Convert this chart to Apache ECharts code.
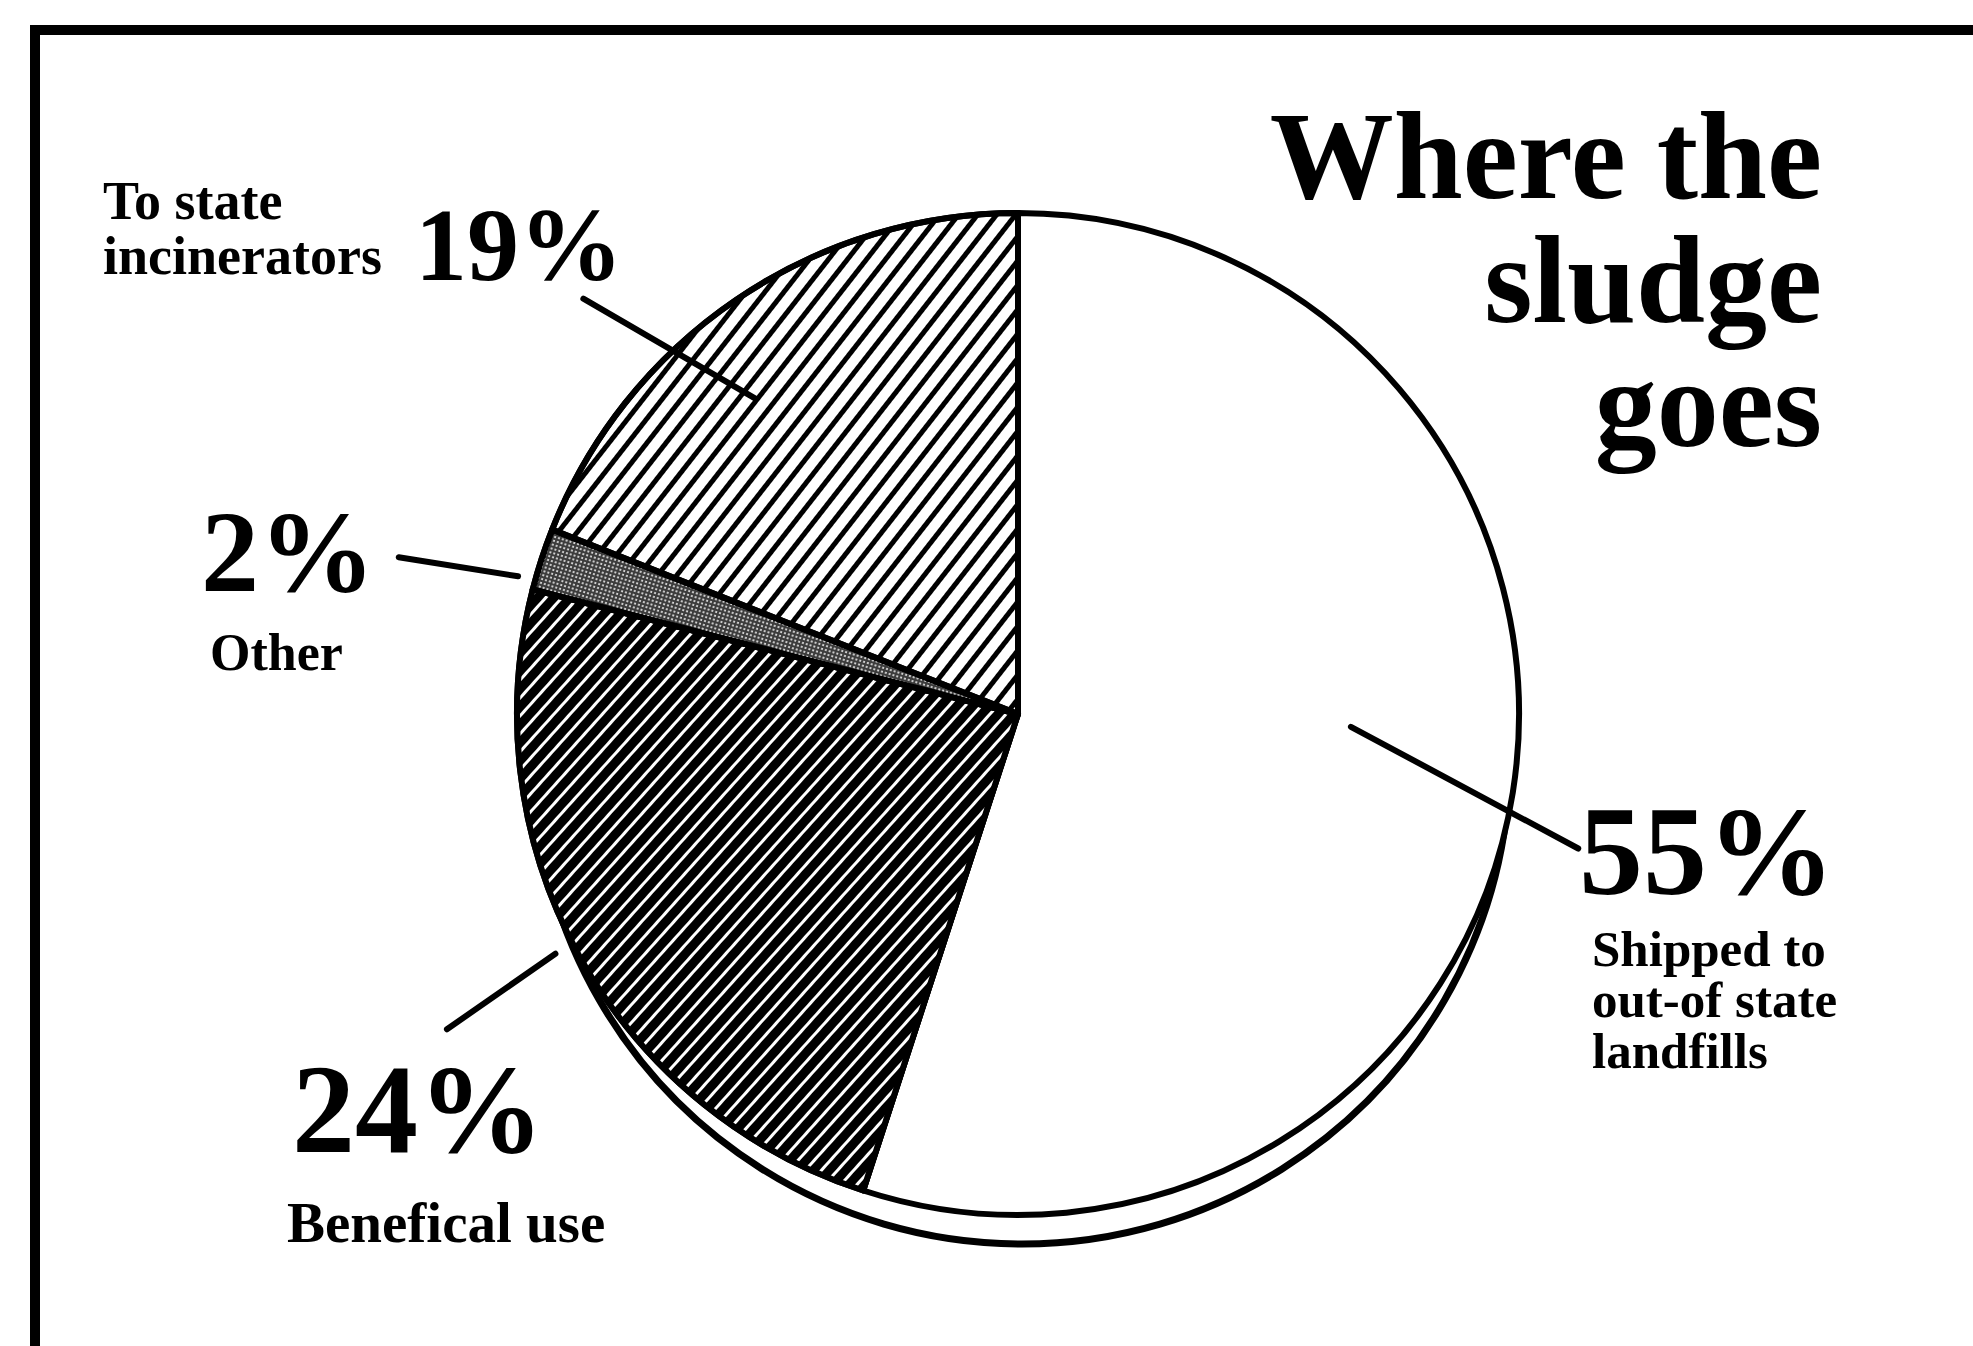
<!DOCTYPE html>
<html>
<head>
<meta charset="utf-8">
<script src="https://cdn.jsdelivr.net/npm/echarts@6/dist/echarts.min.js"></script>
<style>
  html, body { margin: 0; padding: 0; background: #fff; }
  #chart { width: 1973px; height: 1346px; }
</style>
</head>
<body>
<div id="chart"></div>
<script>
// ---------------- data ----------------
const categories = ['Shipped to out-of state landfills', 'Benefical use', 'Other', 'To state incinerators'];
const shares = [55, 24, 2, 19];
const noteLines = [
  ['Shipped to', 'out-of state', 'landfills'],
  ['Benefical use'],
  ['Other'],
  ['To state', 'incinerators']
];
const titleLines = ['Where the', 'sludge', 'goes'];

// ---------------- layout / style ----------------
const FONT = "'Liberation Serif', 'Times New Roman', serif";
const PIE = { cx: 1018, cy: 714, r: 501 };
const RING = { cx: 1022, cy: 756, r: 488 };
const DEG = Math.PI / 180;

// slice fills: white, dense dark hatch, stipple, light hatch
const FILLS = [
  { color: '#ffffff' },
  { color: '#000000', decal: { symbol: 'rect', symbolSize: 1, color: '#ffffff',
      dashArrayX: [1, 0], dashArrayY: [2.5, 8.5], rotation: -48 * DEG } },
  { color: '#3c3c3c', decal: { symbol: 'circle', symbolSize: 0.9, color: '#ffffff',
      dashArrayX: [2, 2], dashArrayY: [2, 2], rotation: 0.3 } },
  { color: '#ffffff', decal: { symbol: 'rect', symbolSize: 1, color: '#000000',
      dashArrayX: [1, 0], dashArrayY: [5, 9.5], rotation: -52 * DEG } }
];

// annotation placement (pixels for text; leader lines in polar terms of the pie)
const NOTES = [
  { big: { x: 1579, y: 887, size: 128 }, small: { x: 1592, y: 963, size: 51, step: 51 },
    line: [[92.2, 0.665], [103.5, 1.15]] },
  { big: { x: 292, y: 1145, size: 126 }, small: { x: 287, y: 1239, size: 57, step: 50 },
    line: [[241.1, 1.302], [242.6, 1.04]] },
  { big: { x: 201, y: 585, size: 116 }, small: { x: 210, y: 667, size: 52, step: 50 },
    line: [[284.2, 1.275], [285.4, 1.035]] },
  { big: { x: 415, y: 274, size: 104 }, small: { x: 103, y: 216, size: 54, step: 55 },
    line: [[313.7, 1.2], [320.2, 0.82]] }
];

function polar(angleDeg, rf) {
  const a = angleDeg * DEG;
  return [PIE.cx + rf * PIE.r * Math.sin(a), PIE.cy - rf * PIE.r * Math.cos(a)];
}

function textEl(str, x, baseline, size, weight) {
  return {
    type: 'text', x: x, y: baseline + size * 0.216, z: 20, silent: true,
    style: {
      text: str, fill: '#000', align: 'left', verticalAlign: 'bottom',
      font: weight + ' ' + size + 'px ' + FONT
    }
  };
}

const graphics = [];
// frame (left and top rules)
graphics.push({
  type: 'polyline', z: 30, silent: true,
  shape: { points: [[35, 1400], [35, 30], [2000, 30]] },
  style: { stroke: '#000', lineWidth: 10, fill: null }
});

shares.forEach((v, i) => {
  const n = NOTES[i];
  graphics.push(textEl(v + '%', n.big.x, n.big.y, n.big.size, 'bold'));
  noteLines[i].forEach((t, k) => {
    graphics.push(textEl(t, n.small.x, n.small.y + k * n.small.step, n.small.size, 'bold'));
  });
  const a = polar(n.line[0][0], n.line[0][1]);
  const b = polar(n.line[1][0], n.line[1][1]);
  graphics.push({
    type: 'line', z: 15, silent: true,
    shape: { x1: a[0], y1: a[1], x2: b[0], y2: b[1] },
    style: { stroke: '#000', lineWidth: 6, lineCap: 'round' }
  });
});

const chart = echarts.init(document.getElementById('chart'), null, { renderer: 'svg' });
chart.setOption({
  animation: false,
  backgroundColor: '#fff',
  title: {
    text: titleLines.join('\n'),
    left: 1817,
    top: 89,
    textAlign: 'right',
    textStyle: {
      fontFamily: FONT, fontWeight: 'bold', fontSize: 124, lineHeight: 124, color: '#000',
      align: 'right'
    }
  },
  graphic: graphics,
  series: [
    {
      type: 'pie', z: 1, silent: true,
      center: [RING.cx, RING.cy], radius: RING.r,
      label: { show: false }, labelLine: { show: false },
      itemStyle: { color: '#fff', borderColor: '#000', borderWidth: 7 },
      data: [{ name: 'outline', value: shares.reduce((a, b) => a + b, 0) }]
    },
    {
      type: 'pie', z: 2, silent: true,
      center: [PIE.cx, PIE.cy], radius: PIE.r,
      startAngle: 90, clockwise: true,
      label: { show: false }, labelLine: { show: false },
      itemStyle: { borderColor: '#000', borderWidth: 6 },
      data: shares.map((v, i) => ({
        name: categories[i], value: v,
        itemStyle: Object.assign({}, FILLS[i])
      }))
    }
  ]
});
</script>
</body>
</html>
